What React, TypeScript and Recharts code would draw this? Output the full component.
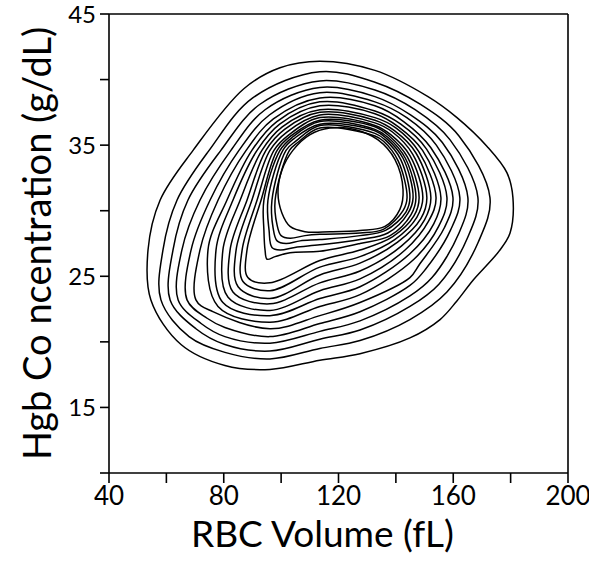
import { LineChart, Line, XAxis, YAxis, Label, ReferenceLine } from "recharts";

const xTicks = [40, 60, 80, 100, 120, 140, 160, 180, 200];
const xLabeled = [40, 80, 120, 160, 200];
const yTicks = [10, 15, 20, 25, 30, 35, 40, 45];
const yLabeled = [15, 25, 35, 45];

// density contours, outermost first; each point is [RBC volume (fL), Hgb (g/dL)]
const level01 = [[57.8, 30.8], [69.3, 34.6], [87.0, 39.3], [99.6, 40.9], [113.5, 41.4], [132.7, 40.7], [151.2, 38.7], [161.3, 37.1], [171.8, 34.9], [178.7, 32.9], [180.8, 31.0], [179.8, 28.3], [175.9, 26.9], [166.9, 24.7], [161.2, 23.1], [155.4, 21.7], [144.9, 20.3], [127.5, 19.1], [113.5, 18.6], [96.1, 17.9], [80.4, 18.2], [65.1, 19.8], [54.6, 23.2], [53.6, 27.0]];
const level02 = [[63.7, 30.8], [74.9, 34.6], [90.1, 38.6], [113.5, 40.6], [132.7, 39.8], [148.6, 38.1], [162.0, 35.7], [172.8, 31.0], [168.7, 27.6], [157.8, 23.8], [144.9, 21.7], [127.5, 20.1], [113.5, 19.5], [96.1, 18.7], [80.4, 19.2], [67.9, 20.4], [58.1, 23.2], [58.8, 27.0]];
const level03 = [[67.5, 30.8], [79.0, 34.6], [92.5, 38.1], [113.5, 39.9], [132.7, 39.2], [146.7, 37.7], [158.9, 35.4], [168.6, 31.0], [164.9, 27.9], [155.0, 24.4], [144.9, 22.7], [127.5, 20.9], [113.5, 20.2], [96.1, 19.3], [80.4, 19.8], [70.3, 21.0], [61.3, 23.2], [62.3, 27.0]];
const level04 = [[71.7, 30.8], [82.5, 34.6], [94.4, 37.7], [113.5, 39.4], [132.7, 38.7], [145.1, 37.3], [156.2, 35.2], [165.1, 31.0], [161.8, 28.2], [152.6, 24.9], [144.9, 23.5], [127.5, 21.6], [113.5, 20.8], [96.1, 19.9], [80.4, 20.4], [72.1, 21.4], [64.1, 23.2], [65.4, 27.0]];
const level05 = [[75.2, 30.8], [85.3, 34.6], [95.9, 37.3], [113.5, 39.0], [132.7, 38.3], [143.8, 37.1], [154.1, 35.0], [162.3, 31.0], [159.0, 28.5], [150.2, 25.5], [144.9, 24.3], [127.5, 22.3], [113.5, 21.4], [96.1, 20.4], [80.4, 21.1], [74.2, 21.8], [67.2, 23.2], [68.6, 27.0]];
const level06 = [[78.0, 30.8], [87.8, 34.6], [97.3, 37.0], [113.5, 38.6], [132.7, 38.0], [142.7, 36.8], [152.2, 34.8], [159.9, 31.0], [156.9, 28.7], [148.2, 25.9], [144.9, 24.9], [127.5, 23.0], [113.5, 22.0], [96.1, 21.0], [76.2, 22.3], [70.3, 23.2], [71.7, 27.0]];
const level07 = [[81.1, 30.8], [89.8, 34.6], [98.5, 36.8], [113.5, 38.3], [132.7, 37.6], [141.7, 36.6], [150.7, 34.7], [157.8, 31.0], [154.9, 28.8], [146.3, 26.3], [127.5, 23.6], [113.5, 22.7], [96.1, 21.5], [78.0, 22.7], [74.5, 27.0]];
const level08 = [[83.2, 30.8], [91.6, 34.6], [99.5, 36.6], [113.5, 38.0], [132.7, 37.4], [140.9, 36.4], [149.3, 34.6], [155.7, 31.0], [153.2, 29.0], [144.8, 26.7], [127.5, 24.2], [113.5, 23.3], [96.1, 22.0], [79.7, 23.0], [77.3, 27.0]];
const level09 = [[85.7, 30.8], [93.3, 34.6], [100.4, 36.4], [113.5, 37.7], [132.7, 37.1], [140.1, 36.3], [148.0, 34.5], [154.0, 31.0], [151.4, 29.2], [143.2, 27.0], [127.5, 24.8], [113.5, 23.9], [96.1, 22.4], [81.5, 23.4], [79.7, 27.0]];
const level10 = [[88.1, 30.8], [94.7, 34.6], [101.2, 36.2], [113.5, 37.5], [132.7, 36.9], [139.5, 36.1], [147.0, 34.4], [152.2, 31.0], [150.0, 29.3], [141.9, 27.3], [127.5, 25.4], [113.5, 24.5], [96.1, 22.9], [83.2, 23.8], [82.2, 27.0]];
const level11 = [[89.8, 30.8], [96.1, 34.6], [102.0, 36.0], [113.5, 37.3], [132.7, 36.7], [138.8, 36.0], [145.9, 34.3], [150.8, 31.0], [148.7, 29.4], [140.6, 27.6], [127.5, 26.0], [113.5, 25.1], [96.1, 23.3], [85.0, 24.2], [84.3, 27.0]];
const level12 = [[91.6, 30.8], [97.5, 34.6], [102.8, 35.8], [113.5, 37.1], [132.7, 36.5], [138.2, 35.8], [144.9, 34.2], [149.4, 31.0], [147.3, 29.5], [139.6, 27.8], [127.5, 26.5], [113.5, 25.7], [96.1, 23.9], [86.7, 24.6], [86.4, 27.0]];
const level13 = [[93.0, 30.8], [98.6, 34.6], [103.4, 35.7], [113.5, 36.9], [132.7, 36.4], [137.7, 35.7], [144.0, 34.1], [148.1, 31.0], [146.3, 29.6], [138.8, 28.0], [127.5, 27.0], [113.5, 26.2], [96.1, 24.5], [88.4, 24.9], [88.1, 27.0]];
const level14 = [[94.0, 30.8], [99.6, 34.6], [103.9, 35.6], [113.5, 36.8], [132.7, 36.2], [137.2, 35.6], [143.3, 34.0], [147.0, 31.0], [145.3, 29.7], [138.0, 28.1], [127.5, 27.5], [113.5, 26.9], [103.1, 26.8], [97.9, 26.5], [95.1, 26.3], [94.4, 27.0], [94.0, 28.5]];
const level15 = [[95.4, 30.8], [100.6, 34.6], [104.5, 35.5], [113.5, 36.6], [132.7, 36.1], [136.8, 35.5], [142.5, 34.0], [146.0, 31.0], [144.2, 29.8], [137.2, 28.3], [127.5, 27.8], [113.5, 27.4], [104.8, 27.2], [99.6, 27.0], [96.8, 27.2], [95.8, 28.5]];
const level16 = [[96.8, 30.8], [101.7, 34.6], [105.1, 35.3], [113.5, 36.5], [132.7, 35.9], [136.3, 35.4], [141.7, 33.9], [144.9, 31.0], [143.5, 29.9], [136.4, 28.5], [127.5, 28.1], [113.5, 27.8], [106.6, 27.7], [101.7, 27.5], [98.6, 27.7], [97.2, 28.7]];
const level17 = [[97.9, 30.8], [102.9, 34.6], [105.8, 35.2], [113.5, 36.3], [132.7, 35.7], [135.7, 35.3], [140.8, 33.8], [143.9, 31.0], [142.5, 30.0], [135.8, 28.6], [127.5, 28.3], [113.5, 28.2], [108.3, 28.1], [103.1, 27.9], [100.0, 28.1], [98.6, 28.9]];
const level18 = [[98.9, 31.4], [100.3, 33.1], [104.1, 34.6], [110.1, 35.8], [117.0, 36.3], [125.7, 36.2], [133.8, 35.4], [139.7, 33.9], [142.5, 31.6], [141.4, 30.1], [136.2, 28.8], [127.5, 28.5], [117.0, 28.4], [108.3, 28.4], [103.1, 28.8], [100.3, 29.8]];

const levels = [level01, level02, level03, level04, level05, level06, level07, level08, level09, level10, level11, level12, level13, level14, level15, level16, level17, level18];

const FONT = "Lato, 'Open Sans', sans-serif";

// closed centripetal catmull-rom, so each contour comes back on itself smoothly
const closedSmooth = (ctx: any) => {
  let pts: number[][] = [];
  return {
    areaStart() {},
    areaEnd() {},
    lineStart() {
      pts = [];
    },
    point(x: number, y: number) {
      pts.push([+x, +y]);
    },
    lineEnd() {
      const n = pts.length;
      if (n < 3) return;
      ctx.moveTo(pts[0][0], pts[0][1]);
      for (let i = 0; i < n; i++) {
        const p0 = pts[(i + n - 1) % n];
        const p1 = pts[i];
        const p2 = pts[(i + 1) % n];
        const p3 = pts[(i + 2) % n];
        const l01 = Math.sqrt(Math.hypot(p1[0] - p0[0], p1[1] - p0[1]));
        const l12 = Math.sqrt(Math.hypot(p2[0] - p1[0], p2[1] - p1[1]));
        const l23 = Math.sqrt(Math.hypot(p3[0] - p2[0], p3[1] - p2[1]));
        let c1x = p1[0], c1y = p1[1], c2x = p2[0], c2y = p2[1];
        if (l01 > 1e-6) {
          const a = 2 * l01 * l01 + 3 * l01 * l12 + l12 * l12;
          const m = 3 * l01 * (l01 + l12);
          c1x = (p1[0] * a - p0[0] * l12 * l12 + p2[0] * l01 * l01) / m;
          c1y = (p1[1] * a - p0[1] * l12 * l12 + p2[1] * l01 * l01) / m;
        }
        if (l23 > 1e-6) {
          const b = 2 * l23 * l23 + 3 * l23 * l12 + l12 * l12;
          const m = 3 * l23 * (l23 + l12);
          c2x = (p2[0] * b + p1[0] * l23 * l23 - p3[0] * l12 * l12) / m;
          c2y = (p2[1] * b + p1[1] * l23 * l23 - p3[1] * l12 * l12) / m;
        }
        ctx.bezierCurveTo(c1x, c1y, c2x, c2y, p2[0], p2[1]);
      }
      ctx.closePath();
    },
  };
};

export default function App() {
  return (
    <>
      {/* no body margin, no scrollbars: the svg fills the 589x566 page */}
      <style>{"html,body{margin:0;padding:0;overflow:hidden}"}</style>
      <LineChart width={589} height={566} margin={{ top: 14, right: 21, bottom: 0, left: 0 }}>
        <XAxis
          type="number"
          dataKey="x"
          domain={[40, 200]}
          ticks={xTicks}
          interval={0}
          tickFormatter={(v: number) => (xLabeled.includes(v) ? String(v) : "")}
          height={93}
          tickSize={10}
          tickMargin={4}
          axisLine={{ stroke: "#000", strokeWidth: 1.6 }}
          tickLine={{ stroke: "#000", strokeWidth: 1.6 }}
          tick={{ fill: "#000", fontSize: 26, fontFamily: FONT }}
        >
          <Label
            content={({ viewBox }: any) => (
              <text
                x={viewBox.x + viewBox.width / 2 - 16}
                y={viewBox.y + viewBox.height - 19}
                textAnchor="middle"
                fontSize={37}
                fontFamily={FONT}
                fill="#000"
              >
                RBC Volume (fL)
              </text>
            )}
          />
        </XAxis>
        <YAxis
          type="number"
          domain={[10, 45]}
          ticks={yTicks}
          interval={0}
          tickFormatter={(v: number) => (yLabeled.includes(v) ? String(v) : "")}
          width={109}
          tickSize={9}
          tickMargin={4}
          axisLine={{ stroke: "#000", strokeWidth: 1.6 }}
          tickLine={{ stroke: "#000", strokeWidth: 1.6 }}
          tick={{ fill: "#000", fontSize: 24, fontFamily: FONT }}
        >
          <Label
            content={({ viewBox }: any) => {
              const cx = viewBox.x + 37;
              const cy = viewBox.y + viewBox.height / 2;
              return (
                <text
                  x={cx}
                  y={cy}
                  dy="0.36em"
                  transform={`rotate(-90, ${cx}, ${cy})`}
                  textAnchor="middle"
                  fontSize={38}
                  fontFamily={FONT}
                  fill="#000"
                >
                  Hgb Co ncentration (g/dL)
                </text>
              );
            }}
          />
        </YAxis>
        <ReferenceLine y={45} stroke="#000" strokeWidth={1.6} />
        <ReferenceLine x={200} stroke="#000" strokeWidth={1.6} />
        {levels.map((pts, i) => (
          <Line
            key={i}
            data={pts.map(([x, y]) => ({ x, y }))}
            dataKey="y"
            type={closedSmooth as any}
            stroke="#000"
            strokeWidth={1.5}
            dot={false}
            activeDot={false}
            isAnimationActive={false}
          />
        ))}
      </LineChart>
    </>
  );
}
